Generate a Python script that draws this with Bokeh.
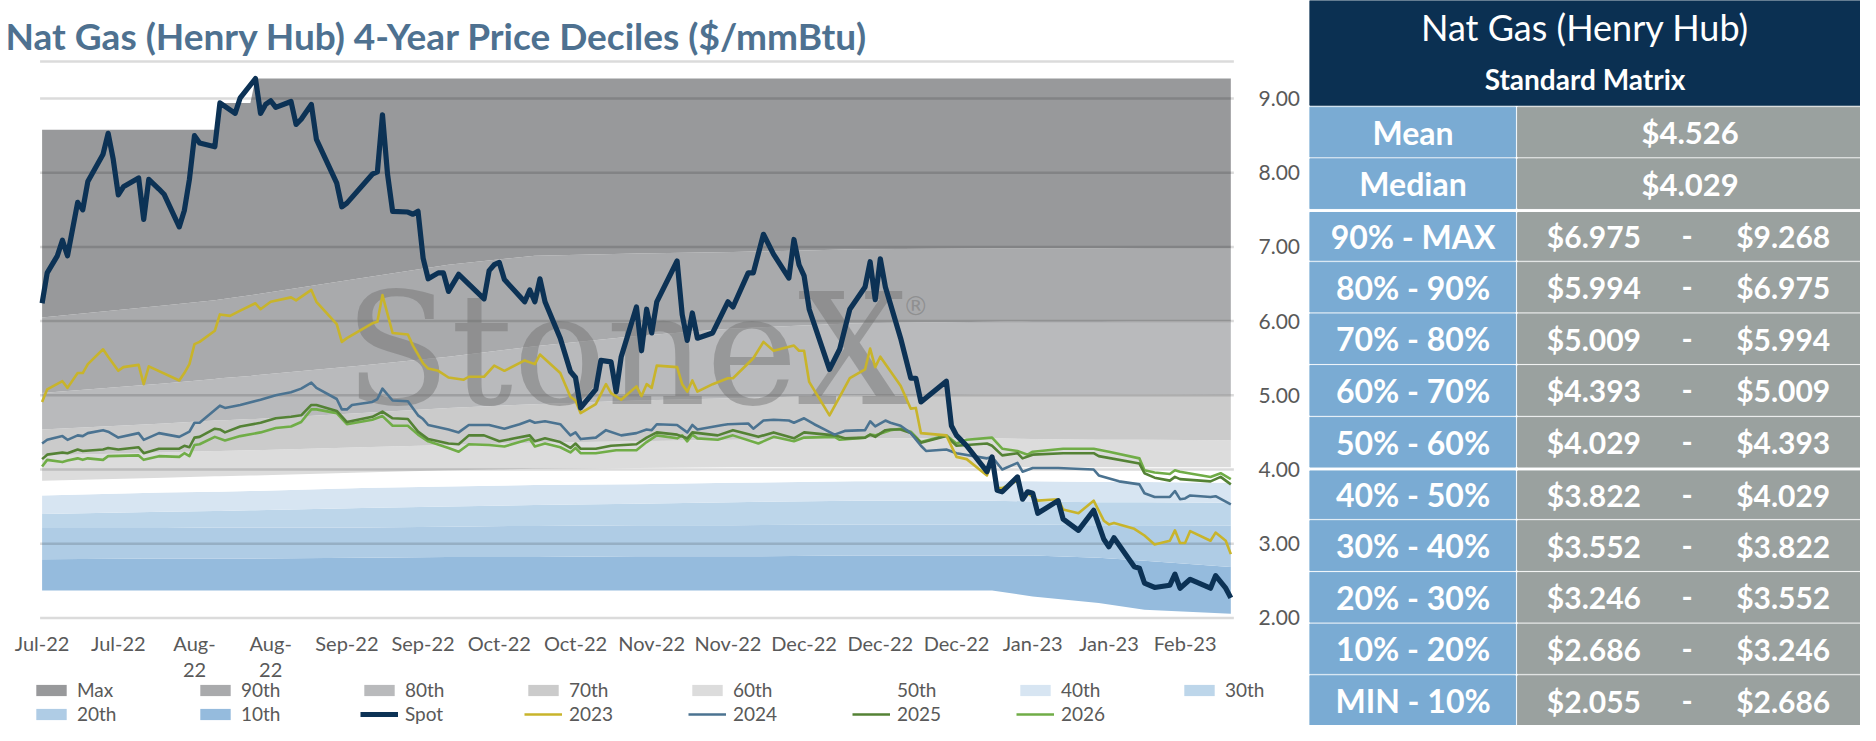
from bokeh.plotting import figure
from bokeh.layouts import row
from bokeh.models import Legend, LegendItem, Range1d
from bokeh.core.properties import value
from bokeh.embed import file_html
from bokeh.resources import INLINE

FONT = "Lato"
GREY_TXT = "#595959"

# ---- x axis (one point per trading day, label every 15 points)
x_labels = ["Jul-22", "Jul-22", "Aug-\n22", "Aug-\n22", "Sep-22", "Sep-22", "Oct-22", "Oct-22",
            "Nov-22", "Nov-22", "Dec-22", "Dec-22", "Dec-22", "Jan-23", "Jan-23", "Feb-23"]
LABEL_STEP = 15
N_DAYS = 235
y_ticks = [2, 3, 4, 5, 6, 7, 8, 9]
y_top_line = 9.5

# ---- rolling 4-year decile boundaries (day, value at that day)
band_day = [0, 24, 34, 35, 41, 42, 63, 80, 97, 117, 136, 160, 187, 195, 208, 217, 234]
b_max = [8.58, 8.58, 8.58, 8.94, 8.94, 9.268, 9.268, 9.268, 9.268, 9.268, 9.268, 9.268, 9.268, 9.268, 9.268, 9.268, 9.268]
b_p90 = [6.05, 6.21, 6.28, 6.29, 6.35, 6.36, 6.58, 6.76, 6.88, 6.91, 6.93, 6.97, 6.98, 6.98, 6.98, 6.975, 6.975]
b_p80 = [5.03, 5.16, 5.22, 5.23, 5.26, 5.27, 5.40, 5.52, 5.66, 5.80, 5.90, 5.97, 5.99, 6.00, 6.00, 5.994, 5.994]
b_p70 = [4.54, 4.62, 4.66, 4.66, 4.68, 4.68, 4.76, 4.83, 4.88, 4.93, 4.96, 5.00, 5.01, 5.01, 5.01, 5.01, 5.009]
b_p60 = [4.19, 4.23, 4.25, 4.25, 4.26, 4.26, 4.30, 4.33, 4.36, 4.38, 4.40, 4.42, 4.42, 4.41, 4.40, 4.40, 4.393]
b_p50 = [3.85, 3.89, 3.91, 3.91, 3.92, 3.92, 3.96, 3.99, 4.01, 4.02, 4.03, 4.03, 4.03, 4.03, 4.03, 4.03, 4.029]
b_p40 = [3.65, 3.69, 3.70, 3.70, 3.71, 3.71, 3.75, 3.77, 3.79, 3.80, 3.82, 3.84, 3.84, 3.84, 3.83, 3.83, 3.822]
b_p30 = [3.40, 3.43, 3.44, 3.44, 3.45, 3.45, 3.48, 3.50, 3.52, 3.54, 3.56, 3.58, 3.58, 3.57, 3.56, 3.56, 3.552]
b_p20 = [3.21, 3.21, 3.22, 3.22, 3.22, 3.22, 3.22, 3.23, 3.24, 3.25, 3.25, 3.26, 3.26, 3.26, 3.25, 3.25, 3.246]
b_p10 = [2.79, 2.80, 2.80, 2.80, 2.80, 2.80, 2.81, 2.82, 2.82, 2.83, 2.83, 2.84, 2.84, 2.84, 2.81, 2.77, 2.686]
b_min = [2.37, 2.37, 2.37, 2.37, 2.37, 2.37, 2.37, 2.37, 2.37, 2.37, 2.37, 2.37, 2.37, 2.29, 2.20, 2.11, 2.055]

# ---- spot and strip prices (day, $/mmBtu)
spot = [(0, 6.24), (1, 6.65), (3, 6.88), (4, 7.09), (5, 6.88), (7, 7.60), (8, 7.50), (9, 7.88), (12, 8.25),
        (13, 8.53), (14, 8.18), (15, 7.70), (16, 7.81), (19, 7.93), (20, 7.37), (21, 7.91), (23, 7.78),
        (24, 7.71), (27, 7.27), (28, 7.49), (29, 7.91), (30, 8.50), (31, 8.40), (34, 8.35), (35, 8.94),
        (38, 8.80), (39, 9.01), (42, 9.268), (43, 8.80), (44, 8.92), (45, 8.97), (46, 8.88), (49, 8.96),
        (50, 8.65), (51, 8.72), (53, 8.92), (54, 8.45), (58, 7.86), (59, 7.54), (60, 7.59), (65, 7.98),
        (66, 8.01), (67, 8.78), (68, 7.98), (69, 7.48), (72, 7.47), (73, 7.44), (74, 7.48), (75, 6.85),
        (76, 6.57), (78, 6.65), (79, 6.65), (80, 6.40), (82, 6.63), (87, 6.30), (88, 6.68), (89, 6.76),
        (90, 6.79), (91, 6.56), (95, 6.26), (96, 6.42), (97, 6.26), (98, 6.57), (99, 6.26), (102, 5.77),
        (104, 5.32), (105, 5.24), (106, 4.83), (109, 5.08), (110, 5.47), (112, 5.45), (113, 5.05),
        (114, 5.52), (117, 6.19), (118, 5.60), (119, 6.16), (120, 5.84), (121, 6.26), (125, 6.81),
        (126, 6.09), (127, 5.74), (128, 6.11), (129, 5.77), (132, 5.84), (135, 6.26), (136, 6.19),
        (139, 6.65), (140, 6.65), (142, 7.17), (144, 6.90), (147, 6.58), (148, 7.10), (149, 6.76),
        (150, 6.61), (151, 6.16), (155, 5.35), (157, 5.62), (159, 6.16), (162, 6.46), (163, 6.80),
        (164, 6.29), (165, 6.84), (166, 6.46), (169, 5.77), (171, 5.23), (172, 5.23), (173, 4.91),
        (178, 5.19), (179, 4.59), (180, 4.46), (182, 4.32), (186, 3.97), (187, 4.17), (188, 3.72),
        (189, 3.70), (192, 3.90), (193, 3.60), (194, 3.70), (195, 3.68), (196, 3.41), (200, 3.58),
        (201, 3.33), (204, 3.18), (207, 3.45), (209, 3.06), (210, 2.96), (211, 3.08), (215, 2.69),
        (216, 2.67), (217, 2.47), (219, 2.41), (222, 2.44), (223, 2.59), (224, 2.40), (226, 2.52),
        (230, 2.40), (231, 2.57), (233, 2.40), (234, 2.27)]

strip_2023 = [(0, 4.91), (1, 5.08), (4, 5.19), (5, 5.10), (7, 5.30), (8, 5.30), (9, 5.42), (12, 5.62),
              (13, 5.52), (15, 5.33), (16, 5.38), (19, 5.41), (20, 5.15), (21, 5.39), (27, 5.20), (28, 5.30),
              (29, 5.42), (30, 5.69), (31, 5.72), (34, 5.87), (35, 6.09), (37, 6.07), (39, 6.14), (42, 6.24),
              (43, 6.16), (45, 6.26), (49, 6.32), (50, 6.28), (53, 6.42), (54, 6.26), (58, 5.96), (59, 5.72),
              (60, 5.77), (65, 5.97), (66, 5.99), (67, 6.35), (69, 5.84), (72, 5.82), (73, 5.67), (75, 5.43),
              (76, 5.36), (78, 5.33), (80, 5.24), (83, 5.21), (84, 5.25), (87, 5.25), (89, 5.40), (91, 5.33),
              (95, 5.47), (97, 5.42), (98, 5.55), (102, 5.30), (104, 4.98), (105, 4.93), (106, 4.76),
              (109, 4.88), (111, 5.15), (112, 5.03), (114, 4.94), (117, 5.12), (118, 4.99), (119, 5.15),
              (120, 5.10), (121, 5.40), (125, 5.38), (126, 5.15), (127, 5.05), (128, 5.20), (129, 5.05),
              (132, 5.15), (135, 5.23), (136, 5.23), (140, 5.50), (142, 5.72), (144, 5.60), (148, 5.67),
              (149, 5.60), (150, 5.60), (151, 5.18), (155, 4.73), (157, 4.98), (159, 5.23), (162, 5.35),
              (163, 5.63), (164, 5.38), (165, 5.52), (169, 5.13), (171, 4.82), (172, 4.83), (173, 4.49),
              (178, 4.46), (180, 4.17), (182, 4.14), (186, 3.92), (187, 4.14), (188, 3.75), (189, 3.75),
              (192, 3.85), (193, 3.60), (194, 3.68), (196, 3.58), (200, 3.60), (201, 3.46), (204, 3.41),
              (207, 3.58), (209, 3.31), (210, 3.26), (211, 3.28), (215, 3.20), (217, 3.11), (219, 2.99),
              (222, 3.04), (223, 3.18), (224, 3.01), (225, 3.01), (226, 3.17), (230, 3.04), (231, 3.15),
              (233, 3.04), (234, 2.86)]

strip_2024 = [(0, 4.35), (1, 4.40), (4, 4.45), (5, 4.40), (7, 4.46), (8, 4.45), (9, 4.49), (12, 4.53),
              (13, 4.51), (15, 4.43), (19, 4.49), (20, 4.40), (23, 4.49), (27, 4.44), (29, 4.51), (30, 4.63),
              (31, 4.63), (35, 4.86), (36, 4.83), (39, 4.87), (43, 4.94), (46, 5.00), (49, 5.04), (51, 5.09),
              (53, 5.17), (54, 5.10), (58, 4.95), (59, 4.81), (60, 4.81), (61, 4.87), (65, 4.91), (66, 4.95),
              (67, 5.09), (69, 4.93), (72, 4.92), (74, 4.73), (75, 4.68), (76, 4.60), (80, 4.54), (82, 4.50),
              (84, 4.60), (88, 4.60), (91, 4.55), (94, 4.61), (96, 4.66), (97, 4.63), (99, 4.65), (102, 4.61),
              (104, 4.46), (105, 4.50), (106, 4.41), (109, 4.43), (111, 4.53), (114, 4.46), (117, 4.49),
              (119, 4.54), (120, 4.53), (121, 4.61), (125, 4.60), (127, 4.50), (128, 4.60), (129, 4.54),
              (134, 4.60), (135, 4.61), (139, 4.62), (140, 4.55), (142, 4.66), (144, 4.67), (147, 4.66),
              (148, 4.63), (150, 4.69), (152, 4.61), (154, 4.54), (156, 4.47), (158, 4.52), (162, 4.53),
              (163, 4.65), (164, 4.58), (166, 4.66), (167, 4.63), (169, 4.59), (171, 4.49), (173, 4.32),
              (174, 4.25), (178, 4.27), (180, 4.22), (186, 4.15), (187, 4.17), (189, 4.00), (192, 4.09),
              (193, 3.97), (195, 4.02), (200, 4.02), (207, 4.00), (208, 3.92), (212, 3.84), (216, 3.80),
              (217, 3.68), (219, 3.63), (222, 3.63), (223, 3.71), (224, 3.60), (225, 3.61), (226, 3.65),
              (230, 3.63), (231, 3.64), (234, 3.53)]

strip_2025 = [(0, 4.14), (1, 4.20), (4, 4.23), (5, 4.22), (7, 4.27), (8, 4.25), (12, 4.27), (13, 4.29),
              (15, 4.27), (19, 4.30), (20, 4.22), (23, 4.28), (27, 4.28), (28, 4.32), (29, 4.30), (30, 4.43),
              (31, 4.44), (34, 4.55), (35, 4.54), (36, 4.50), (39, 4.58), (43, 4.63), (46, 4.69), (49, 4.71),
              (51, 4.73), (53, 4.87), (54, 4.87), (58, 4.79), (60, 4.64), (65, 4.71), (67, 4.78), (69, 4.69),
              (72, 4.68), (74, 4.51), (76, 4.41), (80, 4.35), (82, 4.34), (84, 4.46), (87, 4.46), (90, 4.38),
              (93, 4.42), (96, 4.46), (97, 4.38), (99, 4.42), (102, 4.37), (104, 4.29), (105, 4.35),
              (106, 4.28), (109, 4.28), (112, 4.32), (117, 4.34), (119, 4.43), (121, 4.50), (125, 4.47),
              (127, 4.42), (128, 4.50), (133, 4.46), (136, 4.53), (141, 4.44), (144, 4.50), (148, 4.42),
              (150, 4.50), (156, 4.46), (158, 4.42), (162, 4.43), (163, 4.47), (164, 4.44), (166, 4.53),
              (167, 4.54), (169, 4.54), (171, 4.49), (173, 4.36), (178, 4.45), (180, 4.32), (186, 4.35),
              (187, 4.32), (189, 4.19), (192, 4.22), (193, 4.15), (195, 4.20), (201, 4.22), (207, 4.22),
              (208, 4.18), (216, 4.08), (217, 3.95), (219, 3.89), (222, 3.85), (223, 3.90), (224, 3.87),
              (230, 3.84), (232, 3.90), (234, 3.80)]

strip_2026 = [(0, 4.04), (1, 4.13), (4, 4.10), (5, 4.12), (7, 4.15), (8, 4.13), (9, 4.15), (12, 4.13),
              (13, 4.18), (19, 4.19), (20, 4.13), (23, 4.18), (27, 4.17), (28, 4.22), (29, 4.18), (30, 4.33),
              (31, 4.34), (34, 4.44), (36, 4.39), (39, 4.45), (43, 4.50), (46, 4.56), (49, 4.58), (51, 4.64),
              (53, 4.81), (54, 4.81), (58, 4.76), (60, 4.61), (65, 4.67), (67, 4.72), (69, 4.59), (72, 4.59),
              (74, 4.47), (76, 4.38), (80, 4.29), (82, 4.24), (84, 4.34), (88, 4.33), (91, 4.31), (96, 4.41),
              (97, 4.31), (99, 4.35), (102, 4.30), (104, 4.23), (105, 4.29), (106, 4.22), (109, 4.22),
              (113, 4.26), (117, 4.26), (119, 4.37), (121, 4.46), (125, 4.42), (126, 4.46), (127, 4.38),
              (128, 4.47), (129, 4.42), (133, 4.40), (136, 4.46), (141, 4.35), (144, 4.44), (148, 4.38),
              (150, 4.43), (156, 4.44), (157, 4.40), (162, 4.43), (163, 4.47), (164, 4.46), (167, 4.53),
              (169, 4.55), (171, 4.51), (173, 4.37), (178, 4.46), (180, 4.35), (182, 4.40), (187, 4.43),
              (189, 4.28), (192, 4.25), (194, 4.20), (195, 4.24), (201, 4.28), (207, 4.28), (210, 4.24),
              (216, 4.15), (217, 3.99), (219, 3.96), (222, 3.94), (223, 3.99), (224, 3.97), (230, 3.90),
              (232, 3.95), (234, 3.87)]

# ---- standard matrix table
table_title = "Nat Gas (Henry Hub)"
table_sub = "Standard Matrix"
stat_names = ["Mean", "Median"]
stat_vals = [4.526, 4.029]
decile_names = ["90% - MAX", "80% - 90%", "70% - 80%", "60% - 70%", "50% - 60%",
                "40% - 50%", "30% - 40%", "20% - 30%", "10% - 20%", "MIN - 10%"]
decile_low = [6.975, 5.994, 5.009, 4.393, 4.029, 3.822, 3.552, 3.246, 2.686, 2.055]
decile_high = [9.268, 6.975, 5.994, 5.009, 4.393, 4.029, 3.822, 3.552, 3.246, 2.686]

# ------------------------------------------------------------------ chart
# the chart frame covers the whole canvas, so that the title, the tick labels and the
# legend (all outside the plot area) are not clipped; "px" ranges are canvas pixels
W1, H = 1309, 725
DAY0_PX, PX_PER_DAY = 41.6, 5.08        # where day 0 sits, and its spacing
P9_PX, PX_PER_USD = 98.0, 74.2          # where 9.00 sits, and one dollar in pixels

p = figure(width=W1, height=H,
           x_range=Range1d(-DAY0_PX / PX_PER_DAY, (W1 - DAY0_PX) / PX_PER_DAY),
           y_range=Range1d(9 - (H - P9_PX) / PX_PER_USD, 9 + P9_PX / PX_PER_USD),
           output_backend="svg", toolbar_location=None, min_border=0,
           x_axis_location=None, y_axis_location=None)
p.extra_x_ranges = {"px": Range1d(0, W1)}
p.extra_y_ranges = {"px": Range1d(H, 0)}
p.outline_line_color = None
p.grid.visible = False

bounds = [b_min, b_p10, b_p20, b_p30, b_p40, b_p50, b_p60, b_p70, b_p80, b_p90, b_max]
band_names = ["10th", "20th", "30th", "40th", "50th", "60th", "70th", "80th", "90th", "Max"]
band_colors = ["#95bbdd", "#afcce5", "#bdd6ea", "#d7e5f2", "#ffffff",
               "#dcdcdc", "#cbcbcb", "#b9babc", "#a9aaac", "#98999b"]
rend = {}
for i, name in enumerate(band_names):
    rend[name] = p.varea(x=band_day, y1=bounds[i], y2=bounds[i + 1], fill_color=band_colors[i])

grid_vals = y_ticks + [y_top_line]
gx = [-0.4, N_DAYS - 0.4]
p.multi_line(xs=[gx for _ in grid_vals], ys=[[g, g] for g in grid_vals],
             line_color="black", line_alpha=0.14, line_width=2.5)

# watermark
p.text(x=[115], y=[5.6], text=["StoneX"], text_font=value("DejaVu Serif"), text_font_size="155px",
       text_color="#6f6f6f", text_alpha=0.45, text_align="center", text_baseline="middle")
p.text(x=[172], y=[6.2], text=["\u00ae"], text_font=value("DejaVu Sans"), text_font_size="26px",
       text_color="#6f6f6f", text_alpha=0.45, text_align="center", text_baseline="middle")

line_specs = [("2026", strip_2026, "#70ad47", 2.6), ("2025", strip_2025, "#548235", 2.6),
              ("2024", strip_2024, "#4b7391", 2.6), ("2023", strip_2023, "#c8b42b", 2.6),
              ("Spot", spot, "#0c3255", 5.2)]
for name, pts, col, w in line_specs:
    rend[name] = p.line([d for d, _ in pts], [v for _, v in pts], line_color=col, line_width=w,
                        line_join="round")

# title
p.text(x=[5], y=[35], text=["Nat Gas (Henry Hub) 4-Year Price Deciles ($/mmBtu)"],
       x_range_name="px", y_range_name="px", text_font=value(FONT), text_font_size="37px",
       text_font_style="bold", text_color="#4e7190", text_align="left", text_baseline="middle")

# x tick labels (at the day positions) and right-hand price labels
p.text(x=[i * LABEL_STEP for i in range(len(x_labels))], y=[630] * len(x_labels), text=x_labels,
       y_range_name="px", text_font=value(FONT), text_font_size="20px", text_color=GREY_TXT,
       text_align="center", text_baseline="top", text_line_height=1.1)
p.text(x=[1258] * len(y_ticks), y=y_ticks, text=[f"{v:.2f}" for v in y_ticks], x_range_name="px",
       text_font=value(FONT), text_font_size="21px", text_color=GREY_TXT,
       text_align="left", text_baseline="middle")

legend_rows = [(["Max", "90th", "80th", "70th", "60th", "50th", "40th", "30th"], 24),
               (["20th", "10th", "Spot", "2023", "2024", "2025", "2026"], 0)]
for names, ly in legend_rows:
    leg = Legend(items=[LegendItem(label=n, renderers=[rend[n]]) for n in names],
                 orientation="horizontal", location=(32, ly), glyph_width=38, glyph_height=14,
                 label_standoff=7, label_width=113, spacing=6, padding=0, margin=0,
                 border_line_color=None, background_fill_alpha=0,
                 label_text_font=FONT, label_text_font_size="19px", label_text_color=GREY_TXT)
    p.add_layout(leg)

# ------------------------------------------------------------------ table
TW, TH = 556, 741
HEAD_H = 107
COL_SPLIT = 209
t = figure(width=1860 - W1, height=H, x_range=Range1d(0, TW), y_range=Range1d(TH, 0),
           output_backend="svg", toolbar_location=None, min_border=0,
           x_axis_location=None, y_axis_location=None)
t.grid.visible = False
t.outline_line_color = None

t.quad(left=0, right=TW, top=0, bottom=HEAD_H, color="#0b3052")
t.text(x=[TW / 2], y=[27], text=[table_title], text_font=value(FONT), text_font_size="36px",
       text_color="white", text_align="center", text_baseline="middle")
t.text(x=[TW / 2], y=[80], text=[table_sub], text_font=value(FONT), text_font_size="28px",
       text_font_style="bold", text_color="white", text_align="center", text_baseline="middle")

row_names = stat_names + decile_names
n_rows = len(row_names)
row_h = (TH - HEAD_H) / n_rows
tops, bots, mids = [], [], []
for i in range(n_rows):
    gap = 4 if i in (2, 7) else 2
    top = HEAD_H + i * row_h + gap
    bot = HEAD_H + (i + 1) * row_h
    tops.append(top)
    bots.append(bot)
    mids.append((top + bot) / 2)

t.quad(left=0, right=COL_SPLIT - 1, top=tops, bottom=bots, color="#7aabd3")
t.quad(left=COL_SPLIT + 1, right=TW, top=tops, bottom=bots, color="#9aa19f")

cell_txt = dict(text_font=value(FONT), text_font_style="bold", text_color="white",
                text_baseline="middle", text_align="center")
t.text(x=[COL_SPLIT / 2] * n_rows, y=mids, text=row_names, text_font_size="32px", **cell_txt)
t.text(x=[384] * len(stat_vals), y=mids[:2], text=[f"${v:.3f}" for v in stat_vals],
       text_font_size="31px", **cell_txt)
n_dec = len(decile_names)
t.text(x=[287] * n_dec, y=mids[2:], text=[f"${v:.3f}" for v in decile_low], text_font_size="30px", **cell_txt)
t.text(x=[381] * n_dec, y=mids[2:], text=["-"] * n_dec, text_font_size="30px", **cell_txt)
t.text(x=[478] * n_dec, y=mids[2:], text=[f"${v:.3f}" for v in decile_high], text_font_size="30px", **cell_txt)

layout = row(p, t)
open("out.html", "w").write(file_html(layout, INLINE, "Nat Gas Henry Hub deciles"))
